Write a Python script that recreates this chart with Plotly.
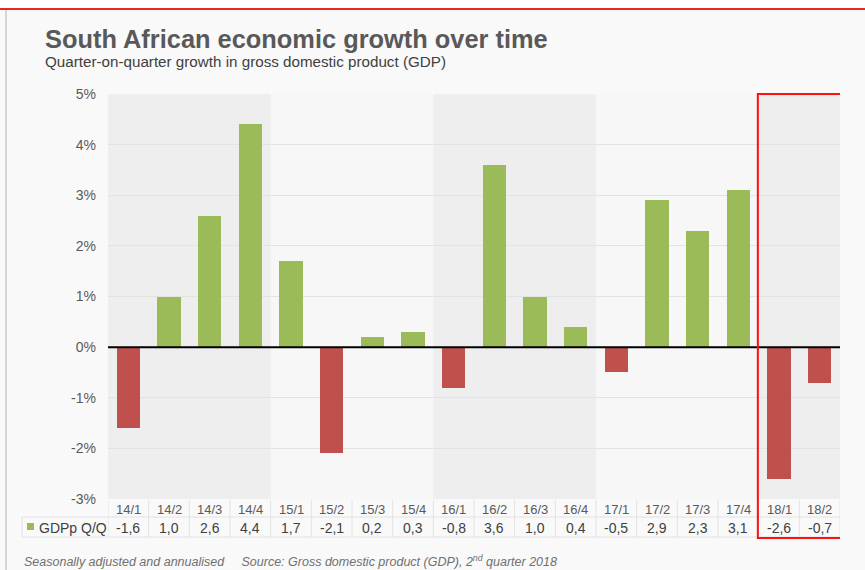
import plotly.graph_objects as go

quarters = ["14/1", "14/2", "14/3", "14/4", "15/1", "15/2", "15/3", "15/4",
            "16/1", "16/2", "16/3", "16/4", "17/1", "17/2", "17/3", "17/4",
            "18/1", "18/2"]
gdp_qq = [-1.6, 1.0, 2.6, 4.4, 1.7, -2.1, 0.2, 0.3,
          -0.8, 3.6, 1.0, 0.4, -0.5, 2.9, 2.3, 3.1,
          -2.6, -0.7]
y_ticks = [-3, -2, -1, 0, 1, 2, 3, 4, 5]
y_tick_labels = ["-3%", "-2%", "-1%", "0%", "1%", "2%", "3%", "4%", "5%"]
shaded_years = [(0, 3), (8, 11), (16, 17)]  # index ranges of shaded bands

GREEN = "#9bbb59"
RED = "#c0504d"
FONT = "Liberation Sans, Arial, sans-serif"

W, H = 865, 570
L, R, T, B = 108, 25, 94, 71
PW, PH = W - L - R, H - T - B


def px_x(px):
    return (px - L) / PW


def px_y(py):
    return (H - B - py) / PH


colors = [GREEN if v >= 0 else RED for v in gdp_qq]
idx = list(range(len(quarters)))

fig = go.Figure()
fig.add_trace(go.Bar(x=idx, y=gdp_qq, marker=dict(color=colors, line=dict(width=0)),
                     width=0.57, hoverinfo="skip", showlegend=False))

shapes = []
# white strip above red line and red line
shapes.append(dict(type="rect", xref="paper", yref="paper", x0=px_x(0), x1=px_x(W),
                   y0=px_y(9), y1=px_y(-5), fillcolor="white", line=dict(width=0), layer="below"))
shapes.append(dict(type="line", xref="paper", yref="paper", x0=px_x(0), x1=px_x(W),
                   y0=px_y(9), y1=px_y(9), line=dict(color="#e8281e", width=2)))
shapes.append(dict(type="line", xref="paper", yref="paper", x0=px_x(6), x1=px_x(6),
                   y0=px_y(10), y1=px_y(H + 5), line=dict(color="#c8c8c8", width=1.5)))
# shaded bands
for a, b in shaded_years:
    shapes.append(dict(type="rect", xref="x", yref="paper", x0=a - 0.5, x1=b + 0.5,
                       y0=0, y1=1, fillcolor="#eeeeee", line=dict(width=0), layer="below"))
# zero line on top
shapes.append(dict(type="line", xref="paper", yref="y", x0=0, x1=1, y0=0, y1=0,
                   line=dict(color="black", width=2), layer="above"))
# table grid
grid_col = "#e2e2e2"
for k in range(len(quarters) + 1):
    shapes.append(dict(type="line", xref="x", yref="paper", x0=k - 0.5, x1=k - 0.5,
                       y0=px_y(500), y1=px_y(537), line=dict(color=grid_col, width=1)))
for py in (517, 537):
    shapes.append(dict(type="line", xref="paper", yref="paper", x0=px_x(22), x1=1,
                       y0=px_y(py), y1=px_y(py), line=dict(color=grid_col, width=1)))
shapes.append(dict(type="line", xref="paper", yref="paper", x0=px_x(22), x1=px_x(22),
                   y0=px_y(517), y1=px_y(537), line=dict(color=grid_col, width=1)))
# legend square
shapes.append(dict(type="rect", xref="paper", yref="paper", x0=px_x(27), x1=px_x(34),
                   y0=px_y(530), y1=px_y(523), fillcolor=GREEN, line=dict(width=0)))
# red highlight rectangle
shapes.append(dict(type="rect", xref="x", yref="paper", x0=15.48, x1=17.55,
                   y0=px_y(538), y1=px_y(94), line=dict(color="#ff1010", width=2),
                   fillcolor="rgba(0,0,0,0)"))

annotations = []
annotations.append(dict(text="<b>South African economic growth over time</b>", xref="paper", yref="paper",
                        x=px_x(43), y=px_y(39), xanchor="left", yanchor="middle", showarrow=False,
                        font=dict(family=FONT, size=25.4, color="#595959")))
annotations.append(dict(text="Quarter-on-quarter growth in gross domestic product (GDP)", xref="paper",
                        yref="paper", x=px_x(43), y=px_y(62), xanchor="left", yanchor="middle",
                        showarrow=False, font=dict(family=FONT, size=15.2, color="#404040")))
for i, (q, v) in enumerate(zip(quarters, gdp_qq)):
    annotations.append(dict(text=q, xref="x", yref="paper", x=i, y=px_y(509), xanchor="center",
                            yanchor="middle", showarrow=False,
                            font=dict(family=FONT, size=13, color="#595959")))
    annotations.append(dict(text=f"{v:.1f}".replace(".", ","), xref="x", yref="paper", x=i,
                            y=px_y(528), xanchor="center", yanchor="middle", showarrow=False,
                            font=dict(family=FONT, size=14, color="#404040")))
annotations.append(dict(text="GDPp Q/Q", xref="paper", yref="paper", x=px_x(37), y=px_y(528),
                        xanchor="left", yanchor="middle", showarrow=False,
                        font=dict(family=FONT, size=14, color="#404040")))
annotations.append(dict(text="<i>Seasonally adjusted and annualised&nbsp;&nbsp;&nbsp;&nbsp;&nbsp;Source: "
                             "Gross domestic product (GDP), 2<sup>nd</sup> quarter 2018</i>",
                        xref="paper", yref="paper",
                        x=px_x(22), y=px_y(561), xanchor="left", yanchor="middle", showarrow=False,
                        font=dict(family=FONT, size=12.5, color="#707070")))

fig.update_layout(
    width=W, height=H, margin=dict(l=L, r=R, t=T, b=B, autoexpand=False),
    paper_bgcolor="#f9f9f9", plot_bgcolor="#f7f7f7",
    shapes=shapes, annotations=annotations, bargap=0, showlegend=False,
    xaxis=dict(range=[-0.5, len(quarters) - 0.5], showticklabels=False, showgrid=False,
               zeroline=False, showline=False, fixedrange=True),
    yaxis=dict(range=[-3, 5], tickvals=y_ticks, ticktext=y_tick_labels, showgrid=True,
               gridcolor="#e3e3e3", gridwidth=1, zeroline=False, showline=False,
               ticks="", ticklabelstandoff=11,
               tickfont=dict(family=FONT, size=14, color="#595959"), fixedrange=True),
)

fig.write_html("out.html", config={"displayModeBar": False},
               post_script="document.body.style.margin='0';document.body.style.overflow='hidden';")
